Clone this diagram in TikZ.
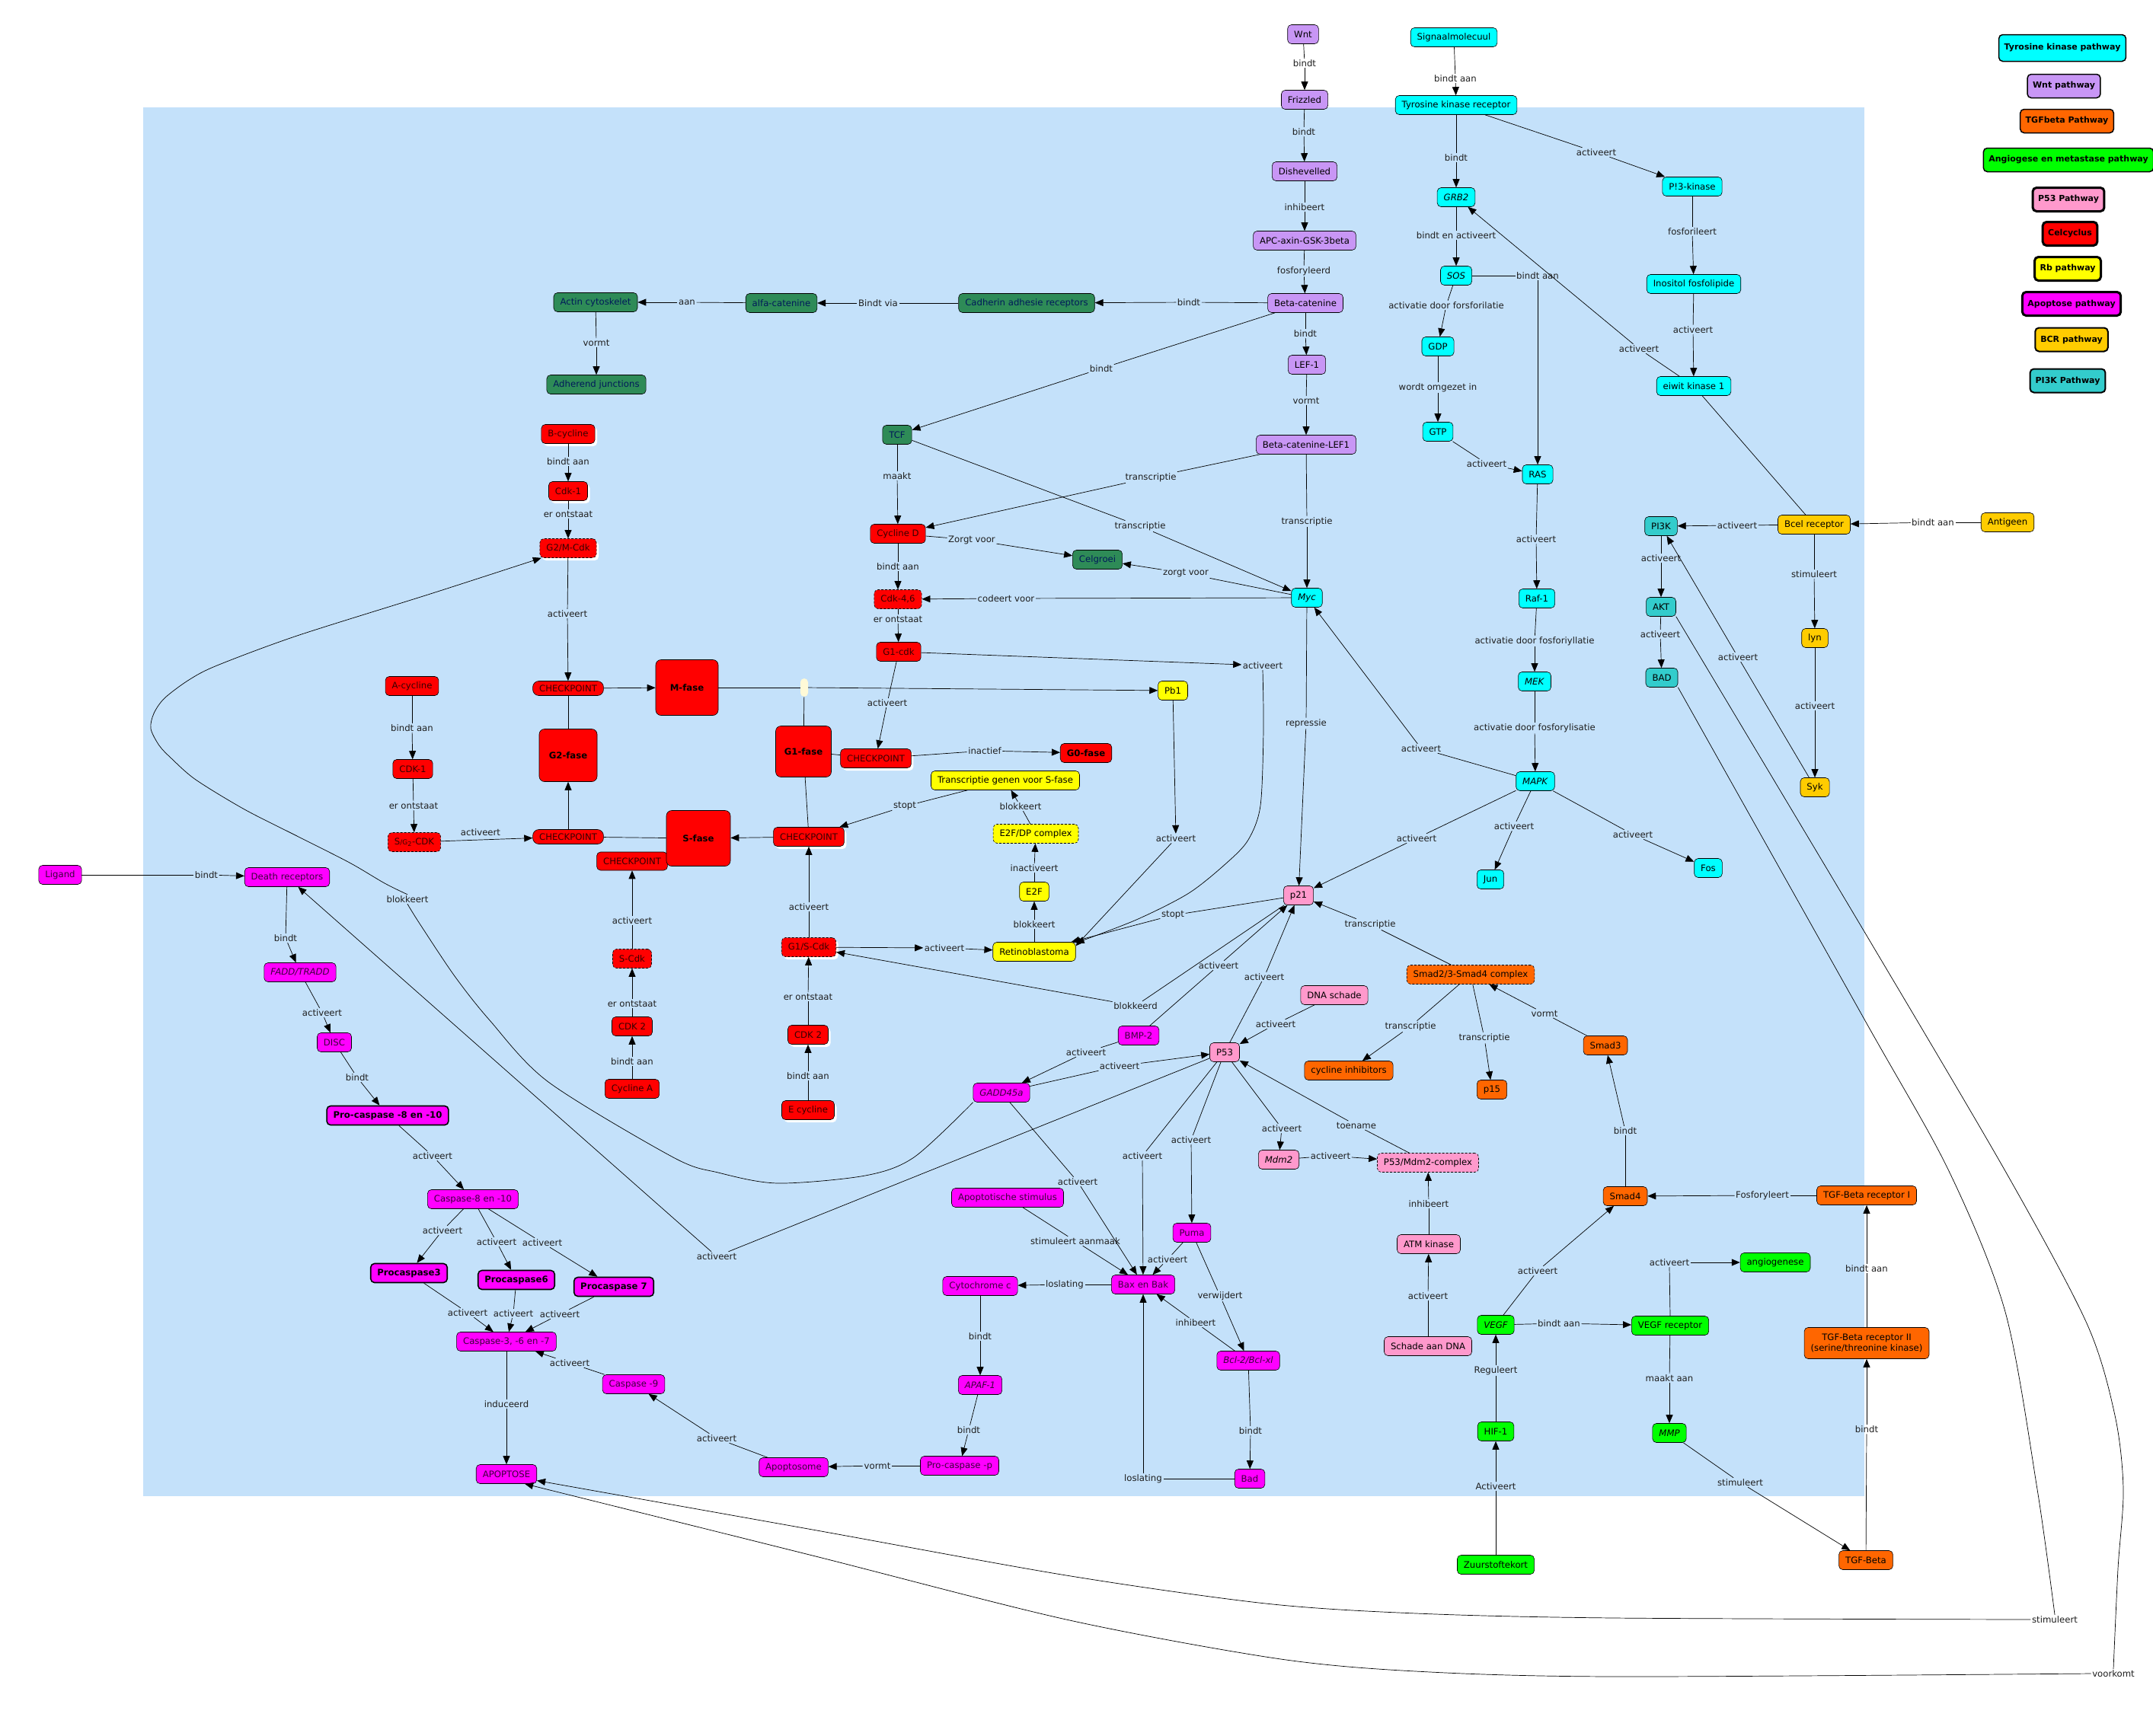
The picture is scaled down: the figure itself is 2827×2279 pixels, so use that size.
\documentclass[tikz,border=0pt]{standalone}
\usepackage{fontspec}
\setmainfont{DejaVu Sans}
\usetikzlibrary{arrows.meta,shadows}
\definecolor{bgblue}{RGB}{196,225,250}
\definecolor{tkc}{RGB}{0,255,255}
\definecolor{wntc}{RGB}{200,150,245}
\definecolor{tgfc}{RGB}{255,102,0}
\definecolor{angc}{RGB}{0,255,0}
\definecolor{p53c}{RGB}{255,153,204}
\definecolor{cycc}{RGB}{255,0,0}
\definecolor{rbc}{RGB}{255,255,0}
\definecolor{apoc}{RGB}{255,0,255}
\definecolor{bcrc}{RGB}{255,204,0}
\definecolor{pikc}{RGB}{51,204,204}
\definecolor{adhc}{RGB}{46,139,87}
\definecolor{labc}{RGB}{30,30,30}
\definecolor{juncc}{RGB}{255,250,215}
\definecolor{cyctext}{RGB}{55,0,0}
\definecolor{adhtext}{RGB}{0,25,90}
\definecolor{apotext}{RGB}{60,0,60}
\newcommand\myfs{\fontsize{11.7}{13.5}\selectfont}
\newcommand\lnk[3]{\draw[ln] (#1) -- (#2); \draw[ar] (#2) -- (#3);}
\tikzset{
  nd/.style={draw=black, line width=0.6pt, rounded corners=5pt, inner xsep=8.5pt, inner ysep=3pt, minimum height=25pt, font=\myfs, text=black},
  tk/.style={nd, fill=tkc},
  wn/.style={nd, fill=wntc},
  tg/.style={nd, fill=tgfc},
  an/.style={nd, fill=angc},
  pf/.style={nd, fill=p53c},
  cy/.style={nd, fill=cycc, text=cyctext},
  rbn/.style={nd, fill=rbc},
  ap/.style={nd, fill=apoc, text=apotext},
  bc/.style={nd, fill=bcrc},
  pk/.style={nd, fill=pikc},
  ad/.style={nd, fill=adhc, text=adhtext},
  dsh/.style={dash pattern=on 3pt off 2pt},
  shw/.style={general shadow={fill=white, shadow xshift=3pt, shadow yshift=-3.5pt}},
  phase/.style={cy, font=\myfs\bfseries, text=black, rounded corners=7pt},
  cpt/.style={cy, minimum height=19pt, inner ysep=1pt, rounded corners=8pt},
  bld/.style={font=\myfs\bfseries, line width=1.6pt, text=black},
  lg/.style={draw=black, rounded corners=5pt, font=\fontsize{11}{13}\selectfont\bfseries, inner xsep=7pt, minimum height=31pt, line width=1.5pt},
  lb/.style={font=\myfs, text=labc, inner sep=1.5pt},
  ar/.style={-{Triangle[length=11pt,width=9pt]}, line width=0.7pt},
  ln/.style={line width=0.7pt},
}
\begin{document}
\begin{tikzpicture}[x=1pt,y=-1pt]
\useasboundingbox (0,0) rectangle (2827,2279);
\fill[bgblue] (188,141) rectangle (2448,1965);

% ---------- Wnt pathway
\node[wn] (wnt) at (1711,45) {Wnt};
\node[wn] (frz) at (1713,131) {Frizzled};
\node[wn] (dsh) at (1713,225) {Dishevelled};
\node[wn] (apc) at (1713,316) {APC-axin-GSK-3beta};
\node[wn] (bcat) at (1714,398) {Beta-catenine};
\node[wn] (lef) at (1716,479) {LEF-1};
\node[wn] (bcl) at (1715,584) {Beta-catenine-LEF1};

% ---------- adhesion (green)
\node[ad] (cad) at (1348,398) {Cadherin adhesie receptors};
\node[ad] (alfa) at (1026,398) {alfa-catenine};
\node[ad] (actin) at (782,397) {Actin cytoskelet};
\node[ad] (adh) at (783,505) {Adherend junctions};
\node[ad] (tcf) at (1178,571) {TCF};
\node[ad] (celg) at (1441,735) {Celgroei};

% ---------- tyrosine kinase
\node[tk] (sig) at (1909,49) {Signaalmolecuul};
\node[tk] (tkr) at (1912,138) {Tyrosine kinase receptor};
\node[tk] (grb) at (1912,259) {\textit{GRB2}};
\node[tk] (sos) at (1912,362) {\textit{SOS}};
\node[tk] (gdp) at (1888,455) {GDP};
\node[tk] (gtp) at (1888,567) {GTP};
\node[tk] (ras) at (2019,623) {RAS};
\node[tk] (raf) at (2018,786) {Raf-1};
\node[tk] (mek) at (2015,895) {\textit{MEK}};
\node[tk] (mapk) at (2016,1026) {\textit{MAPK}};
\node[tk] (jun) at (1957,1155) {Jun};
\node[tk] (fos) at (2243,1140) {Fos};
\node[tk] (myc) at (1716,785) {\textit{Myc}};
\node[tk] (pik) at (2222,245) {P!3-kinase};
\node[tk] (ino) at (2224,373) {Inositol fosfolipide};
\node[tk] (ek1) at (2224,507) {eiwit kinase 1};

% ---------- PI3K / BCR
\node[pk] (pi3k) at (2181,691) {PI3K};
\node[pk] (akt) at (2181,797) {AKT};
\node[pk] (bad1) at (2182,890) {BAD};
\node[bc] (bcr) at (2382,689) {Bcel receptor};
\node[bc] (ant) at (2636,686) {Antigeen};
\node[bc] (lyn) at (2383,838) {lyn};
\node[bc] (syk) at (2383,1034) {Syk};

% ---------- cell cycle
\node[cy,shw] (bcyc) at (746,570) {B-cycline};
\node[cy,shw] (cdk1a) at (746,645) {Cdk-1};
\node[cy,shw,dsh] (g2m) at (746,720) {G2/M-Cdk};
\node[cpt] (cpA) at (746,904) {CHECKPOINT};
\node[phase, minimum width=82pt, minimum height=73pt] (mf) at (902,903) {M-fase};
\node[phase, minimum width=76pt, minimum height=69pt] (g2f) at (746,992) {G2-fase};
\node[cpt] (cpB) at (746,1099) {CHECKPOINT};
\node[cy, minimum height=24pt] (cpC) at (830,1131) {CHECKPOINT};
\node[phase, minimum width=84pt, minimum height=73pt] (sf) at (917,1101) {S-fase};
\node[phase, minimum width=73pt, minimum height=67pt] (g1f) at (1055,987) {G1-fase};
\node[cy,shw] (cpD) at (1150,996) {CHECKPOINT};
\node[cy,shw] (cpE) at (1062,1099) {CHECKPOINT};
\node[cy, font=\myfs\bfseries, text=black] (g0) at (1426,989) {G0-fase};
\node[cy] (cycd) at (1179,701) {Cycline D};
\node[cy,dsh] (cdk46) at (1179,787) {Cdk-4,6};
\node[cy] (g1cdk) at (1180,856) {G1-cdk};
\node[cy] (acyc) at (541,901) {A-cycline};
\node[cy] (cdk1b) at (542,1010) {CDK-1};
\node[cy,dsh] (sg2) at (544,1106) {S{\fontsize{9}{9}\selectfont/G}\textsubscript{2}-CDK};
\node[cy,dsh] (scdk) at (830,1259) {S-Cdk};
\node[cy] (cdk2a) at (830,1348) {CDK 2};
\node[cy] (cyca) at (830,1430) {Cycline A};
\node[cy,shw,dsh] (g1s) at (1062,1244) {G1/S-Cdk};
\node[cy,shw] (cdk2b) at (1061,1359) {CDK 2};
\node[cy,shw] (ecyc) at (1061,1458) {E cycline};
\node[fill=juncc, rounded corners=5pt, minimum width=10pt, minimum height=24pt, inner sep=0pt] (junc) at (1056,903) {};

% ---------- Rb
\node[rbn] (pb1) at (1540,907) {Pb1};
\node[rbn] (tgs) at (1320,1025) {Transcriptie genen voor S-fase};
\node[rbn,dsh] (e2fdp) at (1360,1095) {E2F/DP complex};
\node[rbn] (e2f) at (1358,1171) {E2F};
\node[rbn] (rb) at (1358,1250) {Retinoblastoma};

% ---------- P53
\node[pf] (p21) at (1705,1176) {p21};
\node[pf] (dna) at (1752,1307) {DNA schade};
\node[pf] (p53) at (1608,1382) {P53};
\node[pf] (mdm2) at (1679,1523) {\textit{Mdm2}};
\node[pf,dsh] (pmc) at (1875,1527) {P53/Mdm2-complex};
\node[pf] (atm) at (1876,1634) {ATM kinase};
\node[pf] (sad) at (1875,1768) {Schade aan DNA};

% ---------- TGF beta
\node[tg,dsh] (smc) at (1931,1280) {Smad2/3-Smad4 complex};
\node[tg] (cinh) at (1771,1406) {cycline inhibitors};
\node[tg] (p15) at (1959,1431) {p15};
\node[tg] (smad3) at (2108,1373) {Smad3};
\node[tg] (smad4) at (2134,1571) {Smad4};
\node[tg] (tgfr1) at (2451,1570) {TGF-Beta receptor I};
\node[tg, align=center, minimum height=41pt] (tgfr2) at (2451,1764) {TGF-Beta receptor II\\(serine/threonine kinase)};
\node[tg] (tgfb) at (2450,2049) {TGF-Beta};

% ---------- angiogenesis
\node[an] (vegf) at (1964,1740) {\textit{VEGF}};
\node[an] (hif) at (1964,1880) {HIF-1};
\node[an] (zuur) at (1964,2055) {Zuurstoftekort};
\node[an] (vegfr) at (2193,1741) {VEGF receptor};
\node[an] (angio) at (2331,1658) {angiogenese};
\node[an] (mmp) at (2192,1882) {\textit{MMP}};

% ---------- apoptosis
\node[ap] (lig) at (79,1149) {Ligand};
\node[ap] (dr) at (377,1152) {Death receptors};
\node[ap] (fadd) at (394,1277) {\textit{FADD/TRADD}};
\node[ap] (disc) at (439,1369) {DISC};
\node[ap,bld] (pc810) at (509,1465) {Pro-caspase -8 en -10};
\node[ap] (c810) at (621,1575) {Caspase-8 en -10};
\node[ap,bld] (pc3) at (537,1672) {Procaspase3};
\node[ap,bld] (pc6) at (678,1681) {Procaspase6};
\node[ap,bld] (pc7) at (806,1690) {Procaspase 7};
\node[ap] (c367) at (665,1762) {Caspase-3, -6 en -7};
\node[ap] (apo) at (665,1936) {APOPTOSE};
\node[ap] (c9) at (832,1818) {Caspase -9};
\node[ap] (apsome) at (1042,1927) {Apoptosome};
\node[ap] (pcp) at (1260,1925) {Pro-caspase -p};
\node[ap] (apaf) at (1287,1819) {\textit{APAF-1}};
\node[ap] (cytc) at (1287,1689) {Cytochrome c};
\node[ap] (astim) at (1323,1573) {Apoptotische stimulus};
\node[ap] (bax) at (1501,1687) {Bax en Bak};
\node[ap] (puma) at (1565,1619) {Puma};
\node[ap] (bcl2) at (1639,1787) {\textit{Bcl-2/Bcl-xl}};
\node[ap] (badm) at (1641,1942) {Bad};
\node[ap] (bmp2) at (1495,1360) {BMP-2};
\node[ap] (gadd) at (1315,1435) {\textit{GADD45a}};

% ---------- legend
\node[lg, fill=tkc, minimum height=35pt] (lg1) at (2708,63) {Tyrosine kinase pathway};
\node[lg, fill=wntc] (lg2) at (2710,113) {Wnt pathway};
\node[lg, fill=tgfc] (lg3) at (2714,159) {TGFbeta Pathway};
\node[lg, fill=angc] (lg4) at (2716,210) {Angiogese en metastase pathway};
\node[lg, fill=p53c, line width=3pt] (lg5) at (2716,262) {P53 Pathway};
\node[lg, fill=cycc, line width=3pt] (lg6) at (2718,307) {Celcyclus};
\node[lg, fill=rbc, line width=3pt] (lg7) at (2715,353) {Rb pathway};
\node[lg, fill=apoc, line width=3pt] (lg8) at (2720,399) {Apoptose pathway};
\node[lg, fill=bcrc, line width=2pt] (lg9) at (2720,446) {BCR pathway};
\node[lg, fill=pikc, line width=2pt] (lg10) at (2715,500) {PI3K Pathway};

% ---------- labels
\node[lb] (L1) at (1713,83) {bindt};
\node[lb] (L2) at (1712,173) {bindt};
\node[lb] (L3) at (1713,272) {inhibeert};
\node[lb] (L4) at (1712,356) {fosforyleerd};
\node[lb] (L5) at (1714,438) {bindt};
\node[lb] (L6) at (1715,526) {vormt};
\node[lb] (L7) at (1561,397) {bindt};
\node[lb] (L8) at (1153,398) {Bindt via};
\node[lb] (L9) at (902,397) {aan};
\node[lb] (L10) at (783,450) {vormt};
\node[lb] (L11) at (1446,484) {bindt};
\node[lb] (L12) at (1178,625) {maakt};
\node[lb] (L13) at (1511,627) {transcriptie};
\node[lb] (L14) at (1497,691) {transcriptie};
\node[lb] (L15) at (1716,685) {transcriptie};
\node[lb] (L16) at (1276,709) {Zorgt voor};
\node[lb] (L17) at (1557,753) {zorgt voor};
\node[lb] (L18) at (1179,744) {bindt aan};
\node[lb] (L19) at (1321,786) {codeert voor};
\node[lb] (L20) at (1179,813) {er ontstaat};
\node[lb] (L21) at (1165,923) {activeert};
\node[lb] (L22) at (1658,874) {activeert};
\node[lb] (L23) at (1293,986) {inactief};
\node[lb] (L24) at (1188,1059) {stopt};
\node[lb] (L25) at (1340,1059) {blokkeert};
\node[lb] (L26) at (1358,1140) {inactiveert};
\node[lb] (L27) at (1358,1214) {blokkeert};
\node[lb] (L28) at (1240,1245) {activeert};
\node[lb] (L29) at (1062,1191) {activeert};
\node[lb] (L30) at (1061,1309) {er ontstaat};
\node[lb] (L31) at (1061,1413) {bindt aan};
\node[lb] (L32) at (830,1209) {activeert};
\node[lb] (L33) at (830,1318) {er ontstaat};
\node[lb] (L34) at (830,1394) {bindt aan};
\node[lb] (L35) at (745,806) {activeert};
\node[lb] (L36) at (746,606) {bindt aan};
\node[lb] (L37) at (746,675) {er ontstaat};
\node[lb] (L38) at (541,956) {bindt aan};
\node[lb] (L39) at (543,1058) {er ontstaat};
\node[lb] (L40) at (631,1093) {activeert};
\node[lb] (L41) at (1544,1101) {activeert};
\node[lb] (L42) at (1540,1202) {stopt};
\node[lb] (L43) at (1715,950) {repressie};
\node[lb] (L44) at (1866,983) {activeert};
\node[lb] (L45) at (1860,1101) {activeert};
\node[lb] (L46) at (1988,1085) {activeert};
\node[lb] (L47) at (2144,1096) {activeert};
\node[lb] (L48) at (2015,842) {activatie door fosforiyllatie};
\node[lb] (L49) at (2015,956) {activatie door fosforylisatie};
\node[lb] (L50) at (2017,708) {activeert};
\node[lb] (L51) at (1952,609) {activeert};
\node[lb] (L52) at (2019,362) {bindt aan};
\node[lb] (L53) at (1899,401) {activatie door forsforilatie};
\node[lb] (L54) at (1888,509) {wordt omgezet in};
\node[lb] (L55) at (1912,309) {bindt en activeert};
\node[lb] (L56) at (1912,207) {bindt};
\node[lb] (L57) at (1911,103) {bindt aan};
\node[lb] (L58) at (2096,200) {activeert};
\node[lb] (L59) at (2222,304) {fosforileert};
\node[lb] (L60) at (2223,433) {activeert};
\node[lb] (L61) at (2152,458) {activeert};
\node[lb] (L62) at (2281,690) {activeert};
\node[lb] (L63) at (2538,686) {bindt aan};
\node[lb] (L64) at (2181,733) {activeert};
\node[lb] (L65) at (2180,833) {activeert};
\node[lb] (L66) at (2382,754) {stimuleert};
\node[lb] (L67) at (2383,927) {activeert};
\node[lb] (L68) at (2282,863) {activeert};
\node[lb] (L69) at (2698,2127) {stimuleert};
\node[lb] (L70) at (2775,2198) {voorkomt};
\node[lb] (L71) at (1491,1321) {blokkeerd};
\node[lb] (L72) at (1799,1214) {transcriptie};
\node[lb] (L73) at (1852,1348) {transcriptie};
\node[lb] (L74) at (1949,1363) {transcriptie};
\node[lb] (L75) at (2028,1331) {vormt};
\node[lb] (L76) at (2134,1485) {bindt};
\node[lb] (L77) at (2314,1570) {Fosforyleert};
\node[lb] (L78) at (2451,1666) {bindt aan};
\node[lb] (L79) at (2451,1877) {bindt};
\node[lb] (L80) at (2285,1947) {stimuleert};
\node[lb] (L81) at (2192,1810) {maakt aan};
\node[lb] (L82) at (2192,1658) {activeert};
\node[lb] (L83) at (2047,1738) {bindt aan};
\node[lb] (L84) at (2019,1669) {activeert};
\node[lb] (L85) at (1964,1800) {Reguleert};
\node[lb] (L86) at (1964,1952) {Activeert};
\node[lb] (L87) at (1875,1702) {activeert};
\node[lb] (L88) at (1876,1581) {inhibeert};
\node[lb] (L89) at (1747,1518) {activeert};
\node[lb] (L90) at (1683,1482) {activeert};
\node[lb] (L91) at (1781,1478) {toename};
\node[lb] (L92) at (1675,1345) {activeert};
\node[lb] (L93) at (1660,1283) {activeert};
\node[lb] (L94) at (1600,1268) {activeert};
\node[lb] (L95) at (1426,1382) {activeert};
\node[lb] (L96) at (1470,1400) {activeert};
\node[lb] (L97) at (535,1181) {blokkeert};
\node[lb] (L98) at (1415,1552) {activeert};
\node[lb] (L99) at (1500,1518) {activeert};
\node[lb] (L100) at (1564,1497) {activeert};
\node[lb] (L101) at (941,1650) {activeert};
\node[lb] (L102) at (1533,1654) {activeert};
\node[lb] (L103) at (1602,1702) {verwijdert};
\node[lb] (L104) at (1570,1737) {inhibeert};
\node[lb] (L105) at (1642,1879) {bindt};
\node[lb] (L106) at (1501,1942) {loslating};
\node[lb] (L107) at (1398,1687) {loslating};
\node[lb] (L108) at (1412,1630) {stimuleert aanmaak};
\node[lb] (L109) at (1287,1755) {bindt};
\node[lb] (L110) at (1272,1878) {bindt};
\node[lb] (L111) at (1152,1925) {vormt};
\node[lb] (L112) at (941,1889) {activeert};
\node[lb] (L113) at (748,1790) {activeert};
\node[lb] (L114) at (665,1844) {induceerd};
\node[lb] (L115) at (581,1616) {activeert};
\node[lb] (L116) at (652,1631) {activeert};
\node[lb] (L117) at (712,1632) {activeert};
\node[lb] (L118) at (614,1724) {activeert};
\node[lb] (L119) at (674,1725) {activeert};
\node[lb] (L120) at (735,1726) {activeert};
\node[lb] (L121) at (568,1518) {activeert};
\node[lb] (L122) at (469,1415) {bindt};
\node[lb] (L123) at (423,1330) {activeert};
\node[lb] (L124) at (375,1232) {bindt};
\node[lb] (L125) at (271,1149) {bindt};

% ---------- connectors
\lnk{wnt}{L1}{frz}
\lnk{frz}{L2}{dsh}
\lnk{dsh}{L3}{apc}
\lnk{apc}{L4}{bcat}
\lnk{bcat}{L5}{lef}
\lnk{lef}{L6}{bcl}
\lnk{bcat}{L7}{cad}
\lnk{cad}{L8}{alfa}
\lnk{alfa}{L9}{actin}
\lnk{actin}{L10}{adh}
\lnk{bcat}{L11}{tcf}
\lnk{tcf}{L12}{cycd}
\lnk{bcl}{L13}{cycd}
\lnk{tcf}{L14}{myc}
\lnk{bcl}{L15}{myc}
\lnk{cycd}{L16}{celg}
\lnk{myc}{L17}{celg}
\lnk{cycd}{L18}{cdk46}
\lnk{myc}{L19}{cdk46}
\lnk{cdk46}{L20}{g1cdk}
\lnk{g1cdk}{L21}{cpD}
\draw[ar] (g1cdk) -- (L22);
\draw[ar] plot[smooth] coordinates {(L22.south) (1659,959) (1655,1058) (1639,1103) (1611,1133) (1561,1173) (1492,1208) (rb.12)};
\lnk{cpD}{L23}{g0}
\lnk{tgs}{L24}{cpE}
\lnk{e2fdp}{L25}{tgs}
\lnk{e2f}{L26}{e2fdp}
\lnk{rb}{L27}{e2f}
\draw[ar] (g1s) -- (L28);
\draw[ar] (L28) -- (rb);
\lnk{g1s}{L29}{cpE}
\lnk{cdk2b}{L30}{g1s}
\lnk{ecyc}{L31}{cdk2b}
\lnk{scdk}{L32}{cpC}
\lnk{cdk2a}{L33}{scdk}
\lnk{cyca}{L34}{cdk2a}
\lnk{g2m}{L35}{cpA}
\lnk{bcyc}{L36}{cdk1a}
\lnk{cdk1a}{L37}{g2m}
\lnk{acyc}{L38}{cdk1b}
\lnk{cdk1b}{L39}{sg2}
\draw[ar] (sg2) -- (cpB);
\draw[ar] (pb1) -- (L41);
\draw[ar] (L41) -- (rb.8);
\lnk{p21}{L42}{rb}
\lnk{myc}{L43}{p21}
\lnk{mapk}{L44}{myc}
\lnk{mapk}{L45}{p21}
\lnk{mapk}{L46}{jun}
\lnk{mapk}{L47}{fos}
\lnk{raf}{L48}{mek}
\lnk{mek}{L49}{mapk}
\lnk{ras}{L50}{raf}
\lnk{gtp}{L51}{ras}
\lnk{sos}{L52}{ras}
\lnk{sos}{L53}{gdp}
\lnk{gdp}{L54}{gtp}
\lnk{grb}{L55}{sos}
\lnk{tkr}{L56}{grb}
\lnk{sig}{L57}{tkr}
\lnk{tkr}{L58}{pik}
\lnk{pik}{L59}{ino}
\lnk{ino}{L60}{ek1}
\lnk{ek1}{L61}{grb}
\draw[ln] (ek1) -- (bcr);
\lnk{bcr}{L62}{pi3k}
\lnk{ant}{L63}{bcr}
\lnk{pi3k}{L64}{akt}
\lnk{akt}{L65}{bad1}
\lnk{bcr}{L66}{lyn}
\lnk{lyn}{L67}{syk}
\lnk{syk}{L68}{pi3k}
\draw[ln] plot[smooth] coordinates {(bad1.south east) (2447,1337) (2559,1538) (2633,1723) (2675,1956) (L69.north)};
\draw[ar] plot[smooth] coordinates {(L69.west) (2120,2125) (1860,2119) (1662,2106) (1400,2069) (1067,2009) (apo.-12)};
\draw[ln] plot[smooth] coordinates {(akt.south east) (2447,1222) (2633,1538) (2740,1738) (2777,1859) (2788,1956) (2781,2060) (L70.north)};
\draw[ar] plot[smooth] coordinates {(L70.west) (2120,2202) (1859,2195) (1675,2178) (1400,2127) (1067,2043) (apo.-28)};
\lnk{p21}{L71}{g1s}
\lnk{smc}{L72}{p21}
\lnk{smc}{L73}{cinh}
\lnk{smc}{L74}{p15}
\lnk{smad3}{L75}{smc}
\lnk{smad4}{L76}{smad3}
\lnk{tgfr1}{L77}{smad4}
\lnk{tgfr2}{L78}{tgfr1}
\lnk{tgfb}{L79}{tgfr2}
\lnk{mmp}{L80}{tgfb}
\lnk{vegfr}{L81}{mmp}
\draw[ln] (vegfr.north) -- (L82.south);
\draw[ar] (L82) -- (angio);
\lnk{vegf}{L83}{vegfr}
\lnk{vegf}{L84}{smad4}
\lnk{hif}{L85}{vegf}
\lnk{zuur}{L86}{hif}
\lnk{sad}{L87}{atm}
\lnk{atm}{L88}{pmc}
\lnk{mdm2}{L89}{pmc}
\lnk{p53}{L90}{mdm2}
\lnk{pmc}{L91}{p53}
\lnk{dna}{L92}{p53}
\lnk{p53}{L93}{p21}
\lnk{bmp2}{L94}{p21}
\lnk{bmp2}{L95}{gadd}
\lnk{gadd}{L96}{p53}
\draw[ln] plot[smooth] coordinates {(gadd.south west) (1200,1520) (1136,1544) (1021,1554) (943,1540) (884,1520) (720,1421) (643,1340) (597,1282) (551,1213) (L97.south)};
\draw[ar] plot[smooth] coordinates {(L97.north) (505,1160) (459,1133) (390,1098) (321,1063) (257,1024) (225,996) (209,979) (198,957) (202,937) (216,917) (248,893) (285,874) (390,835) (565,780) (g2m.200)};
\lnk{gadd}{L98}{bax}
\lnk{p53}{L99}{bax}
\lnk{p53}{L100}{puma}
\lnk{p53}{L101}{dr}
\lnk{puma}{L102}{bax}
\lnk{puma}{L103}{bcl2}
\lnk{bcl2}{L104}{bax}
\lnk{bcl2}{L105}{badm}
\lnk{badm}{L106}{bax}
\lnk{bax}{L107}{cytc}
\lnk{astim}{L108}{bax}
\lnk{cytc}{L109}{apaf}
\lnk{apaf}{L110}{pcp}
\lnk{pcp}{L111}{apsome}
\lnk{apsome}{L112}{c9}
\lnk{c9}{L113}{c367}
\lnk{c367}{L114}{apo}
\lnk{c810}{L115}{pc3}
\lnk{c810}{L116}{pc6}
\lnk{c810}{L117}{pc7}
\lnk{pc3}{L118}{c367}
\lnk{pc6}{L119}{c367}
\lnk{pc7}{L120}{c367}
\lnk{pc810}{L121}{c810}
\lnk{disc}{L122}{pc810}
\lnk{fadd}{L123}{disc}
\lnk{dr}{L124}{fadd}
\lnk{lig}{L125}{dr}

% cell cycle phases
\draw[ar] (cpA) -- (mf);
\draw[ln] (g2f) -- (cpA);
\draw[ar] (cpB) -- (g2f);
\draw[ln] (sf) -- (cpB);
\draw[ar] (cpE) -- (sf);
\draw[ln] (g1f) -- (cpE);
\draw[ln] (g1f) -- (cpD);
\draw[ln] (g1f) -- (junc);
\draw[ln] (mf) -- (junc);
\draw[ar] (junc) -- (pb1);
\end{tikzpicture}
\end{document}
